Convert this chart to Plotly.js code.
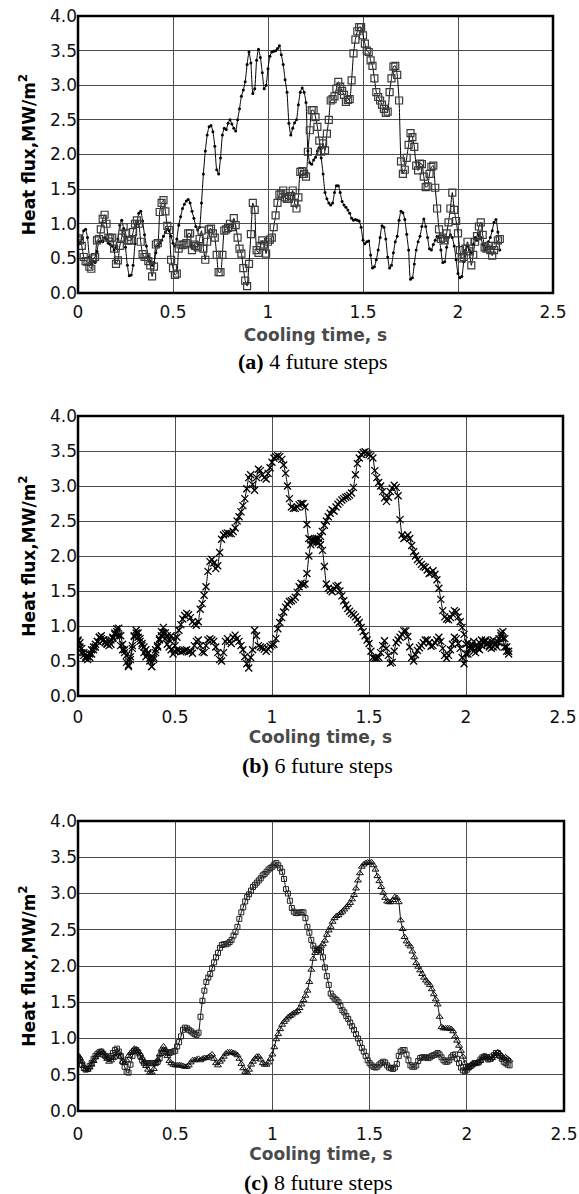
<!DOCTYPE html>
<html>
<head>
<meta charset="utf-8">
<script src="https://cdn.plot.ly/plotly-3.0.1.min.js"></script>
<style>html,body{margin:0;padding:0;background:#fff;}#chart{width:579px;height:1194px;}</style>
</head>
<body>
<div id="chart"></div>
<script>
// Sampling: cooling time starts at 0 s, one value every 0.01 s
const timeStart = 0;
const timeStep = 0.01;

// (a) 4 future steps
const a_dots = [0.70,0.72,0.78,0.90,0.92,0.80,0.52,0.42,0.46,0.44,0.60,0.74,0.75,0.74,0.80,0.78,0.72,0.70,0.68,0.62,
0.66,0.78,0.98,1.05,0.93,0.66,0.40,0.25,0.26,0.40,0.71,1.00,1.15,1.18,1.04,0.84,0.68,0.53,0.46,0.40,
0.44,0.58,0.68,0.72,0.76,0.82,0.88,0.92,0.90,0.82,0.72,0.68,0.78,0.98,1.10,1.22,1.28,1.33,1.35,1.30,
1.18,1.08,0.96,0.91,0.95,1.30,1.72,2.05,2.28,2.40,2.42,2.33,2.12,1.78,1.72,1.95,2.28,2.38,2.36,2.45,
2.50,2.44,2.38,2.34,2.50,2.66,2.84,2.93,3.05,3.30,3.48,3.32,2.88,2.95,3.36,3.52,3.40,3.18,2.95,3.00,
3.24,3.42,3.48,3.49,3.50,3.53,3.57,3.44,3.30,3.08,2.90,2.45,2.28,2.38,2.46,2.50,2.72,2.90,2.96,2.90,
2.75,2.05,1.88,1.86,1.92,1.96,2.05,2.10,1.95,1.72,1.45,1.36,1.30,1.27,1.30,1.45,1.55,1.55,1.45,1.32,
1.27,1.24,1.20,1.15,1.08,1.05,1.06,1.05,1.04,0.95,0.76,0.71,0.74,0.75,0.55,0.36,0.38,0.48,0.62,0.80,
0.97,0.95,0.78,0.52,0.36,0.40,0.58,0.74,0.82,1.05,1.18,1.16,1.06,0.85,0.62,0.20,0.22,0.42,0.62,0.74,
0.82,0.96,1.07,0.96,0.80,0.64,0.62,0.70,0.76,0.82,0.80,0.62,0.44,0.45,0.66,0.80,0.84,0.80,0.68,0.48,
0.28,0.22,0.24,0.45,0.62,0.68,0.62,0.58,0.70,0.80,0.76,0.84,0.80,0.70,0.62,0.66,0.74,0.80,0.90,1.02,
1.06,0.88,0.62];
const a_squares = [0.79,0.76,0.68,0.52,0.46,0.45,0.38,0.35,0.50,0.52,0.76,0.78,0.92,1.07,1.13,1.00,0.80,0.79,0.80,0.64,
0.42,0.47,0.68,0.80,0.95,0.87,0.76,0.76,0.76,0.88,1.00,1.05,1.00,0.74,0.56,0.52,0.52,0.46,0.40,0.24,
0.38,0.70,0.72,1.17,1.30,1.34,1.18,0.97,0.91,0.48,0.36,0.26,0.28,0.64,0.70,0.69,0.70,0.72,0.86,0.86,
0.62,0.70,0.68,0.66,0.78,0.90,0.64,0.48,0.74,0.92,0.93,0.86,0.80,0.55,0.30,0.30,0.55,0.90,0.92,0.94,
1.00,0.95,1.08,0.98,0.80,0.64,0.57,0.36,0.18,0.10,0.42,0.85,1.30,1.20,0.62,0.58,0.68,0.76,0.70,0.57,
0.74,0.77,0.80,0.95,1.12,1.30,1.42,1.44,1.48,1.38,1.36,1.36,1.40,1.48,1.30,1.22,1.38,1.75,1.76,1.72,
1.68,2.04,2.35,2.64,2.64,2.54,2.40,2.20,2.04,2.16,2.06,2.30,2.50,2.78,2.80,2.84,2.95,3.05,2.98,2.92,
2.86,2.76,2.79,2.80,3.07,3.46,3.66,3.78,3.84,3.84,3.72,3.60,3.50,3.48,3.36,3.28,3.10,2.90,2.83,2.78,
2.72,2.66,2.60,2.62,2.90,3.10,3.27,3.28,3.15,2.78,1.90,1.72,1.78,1.95,2.14,2.31,2.25,2.11,1.84,1.77,
1.87,1.86,1.68,1.53,1.54,1.72,1.82,1.84,1.52,1.22,0.92,0.78,0.80,0.76,0.86,1.02,1.22,1.45,1.20,1.04,
0.86,0.62,0.50,0.52,0.64,0.74,0.60,0.40,0.55,0.74,0.82,0.96,1.02,0.84,0.66,0.64,0.68,0.62,0.54,0.62,
0.68,0.76,0.78];

// (b) 6 future steps
const b_first = [0.78,0.70,0.62,0.58,0.54,0.52,0.55,0.60,0.66,0.70,0.78,0.84,0.82,0.80,0.78,0.75,0.78,0.80,0.84,0.88,
0.92,0.86,0.72,0.66,0.62,0.48,0.42,0.56,0.72,0.86,0.90,0.84,0.78,0.75,0.70,0.66,0.62,0.50,0.42,0.55,
0.66,0.70,0.82,0.92,0.98,0.90,0.86,0.80,0.86,0.82,0.72,0.84,0.94,1.02,1.10,1.15,1.18,1.16,1.12,1.06,
1.03,1.01,1.06,1.24,1.32,1.44,1.56,1.78,1.92,1.95,1.90,1.82,1.86,2.05,2.24,2.30,2.32,2.33,2.32,2.32,
2.35,2.40,2.50,2.56,2.63,2.72,2.82,2.96,3.12,3.16,3.02,2.94,3.12,3.24,3.22,3.16,3.12,3.10,3.18,3.26,
3.34,3.40,3.42,3.43,3.42,3.38,3.30,3.18,3.00,2.82,2.70,2.68,2.68,2.70,2.73,2.75,2.75,2.70,2.45,2.25,
2.23,2.23,2.21,2.20,2.19,2.16,2.08,1.85,1.60,1.54,1.51,1.49,1.53,1.57,1.58,1.50,1.43,1.36,1.30,1.25,
1.21,1.18,1.16,1.13,1.09,1.05,0.98,0.92,0.86,0.80,0.75,0.64,0.55,0.54,0.54,0.55,0.62,0.72,0.79,0.68,
0.58,0.47,0.48,0.64,0.76,0.80,0.84,0.88,0.93,0.93,0.85,0.70,0.55,0.50,0.59,0.65,0.69,0.72,0.76,0.80,
0.80,0.76,0.71,0.72,0.76,0.80,0.84,0.78,0.68,0.58,0.54,0.58,0.66,0.74,0.84,0.82,0.75,0.68,0.55,0.46,
0.60,0.76,0.72,0.70,0.64,0.62,0.70,0.76,0.80,0.76,0.78,0.74,0.70,0.68,0.70,0.74,0.78,0.82,0.90,0.82,
0.70,0.64,0.60];
const b_second = [0.80,0.76,0.68,0.62,0.56,0.56,0.60,0.66,0.70,0.74,0.78,0.84,0.86,0.80,0.76,0.74,0.72,0.74,0.82,0.90,
0.96,0.97,0.86,0.74,0.66,0.58,0.44,0.52,0.68,0.85,0.94,0.90,0.82,0.72,0.62,0.56,0.60,0.54,0.42,0.52,
0.62,0.72,0.80,0.86,0.90,0.82,0.74,0.70,0.66,0.60,0.64,0.66,0.65,0.63,0.64,0.65,0.66,0.63,0.64,0.61,
0.72,0.78,0.80,0.72,0.63,0.62,0.72,0.80,0.82,0.80,0.78,0.70,0.62,0.52,0.50,0.62,0.78,0.82,0.78,0.75,
0.84,0.87,0.82,0.78,0.72,0.66,0.56,0.46,0.40,0.55,0.66,0.94,0.86,0.72,0.70,0.69,0.67,0.64,0.67,0.71,
0.73,0.74,0.82,0.96,1.05,1.12,1.20,1.27,1.31,1.35,1.36,1.38,1.41,1.48,1.56,1.61,1.59,1.60,1.75,2.00,
2.16,2.21,2.24,2.25,2.25,2.28,2.35,2.44,2.50,2.56,2.61,2.66,2.64,2.70,2.74,2.77,2.80,2.82,2.84,2.85,
2.87,2.90,2.98,3.16,3.32,3.40,3.45,3.48,3.49,3.47,3.45,3.43,3.40,3.22,3.12,3.05,3.00,2.92,2.83,2.78,
2.84,2.92,2.97,3.01,2.98,2.86,2.52,2.30,2.25,2.27,2.30,2.25,2.15,2.06,2.00,1.95,1.92,1.88,1.85,1.84,
1.80,1.75,1.76,1.79,1.74,1.66,1.54,1.38,1.22,1.13,1.10,1.09,1.12,1.17,1.22,1.20,1.13,1.06,0.98,0.88,
0.74,0.60,0.68,0.74,0.78,0.72,0.68,0.66,0.72,0.78,0.80,0.76,0.72,0.78,0.80,0.74,0.70,0.76,0.86,0.92,
0.82,0.70,0.64];

// (c) 8 future steps
const c_squares = [0.74,0.70,0.64,0.59,0.57,0.58,0.62,0.66,0.72,0.76,0.79,0.81,0.82,0.79,0.76,0.74,0.73,0.76,0.80,0.84,
0.86,0.82,0.76,0.68,0.61,0.54,0.53,0.64,0.76,0.83,0.84,0.81,0.76,0.70,0.66,0.66,0.66,0.66,0.66,0.66,
0.66,0.68,0.73,0.80,0.82,0.82,0.81,0.80,0.81,0.82,0.83,0.89,0.95,1.03,1.12,1.15,1.14,1.12,1.10,1.08,
1.06,1.05,1.08,1.30,1.52,1.66,1.78,1.84,1.89,1.97,2.05,2.12,2.18,2.25,2.29,2.30,2.30,2.31,2.33,2.36,
2.42,2.47,2.54,2.65,2.74,2.81,2.89,2.95,2.99,3.04,3.09,3.12,3.15,3.18,3.21,3.25,3.27,3.30,3.33,3.35,
3.37,3.40,3.42,3.39,3.35,3.30,3.20,3.06,3.00,2.90,2.80,2.75,2.73,2.73,2.74,2.74,2.74,2.66,2.54,2.46,
2.36,2.28,2.24,2.22,2.22,2.20,2.12,1.98,1.86,1.74,1.62,1.58,1.55,1.53,1.50,1.45,1.39,1.36,1.31,1.27,
1.22,1.17,1.12,1.06,1.00,0.94,0.87,0.82,0.76,0.70,0.66,0.63,0.61,0.60,0.61,0.64,0.66,0.68,0.67,0.63,
0.60,0.59,0.58,0.60,0.65,0.76,0.82,0.84,0.84,0.78,0.70,0.63,0.61,0.61,0.63,0.69,0.73,0.74,0.74,0.74,
0.73,0.74,0.76,0.77,0.78,0.80,0.78,0.74,0.70,0.68,0.68,0.70,0.74,0.77,0.78,0.72,0.66,0.60,0.56,0.55,
0.57,0.60,0.62,0.64,0.66,0.66,0.67,0.71,0.74,0.75,0.74,0.71,0.72,0.75,0.77,0.80,0.80,0.76,0.72,0.68,
0.66,0.64,0.63];
const c_triangles = [0.77,0.73,0.68,0.62,0.58,0.57,0.60,0.64,0.69,0.74,0.77,0.80,0.82,0.80,0.76,0.72,0.68,0.70,0.73,0.75,
0.78,0.80,0.75,0.68,0.66,0.70,0.76,0.80,0.83,0.86,0.85,0.82,0.78,0.73,0.67,0.62,0.57,0.53,0.53,0.58,
0.66,0.70,0.78,0.85,0.89,0.84,0.76,0.69,0.66,0.64,0.63,0.63,0.63,0.63,0.62,0.61,0.61,0.63,0.67,0.70,
0.70,0.71,0.72,0.70,0.72,0.73,0.73,0.74,0.76,0.78,0.72,0.66,0.63,0.68,0.71,0.75,0.79,0.81,0.81,0.81,
0.80,0.79,0.77,0.72,0.65,0.59,0.54,0.53,0.57,0.64,0.68,0.72,0.75,0.75,0.71,0.66,0.64,0.64,0.67,0.72,
0.78,0.88,0.99,1.06,1.13,1.19,1.23,1.26,1.29,1.31,1.33,1.35,1.36,1.38,1.42,1.47,1.53,1.59,1.66,1.78,
1.95,2.10,2.18,2.21,2.24,2.27,2.30,2.35,2.43,2.49,2.54,2.61,2.66,2.69,2.70,2.73,2.75,2.78,2.81,2.84,
2.87,2.92,2.98,3.07,3.18,3.28,3.37,3.40,3.42,3.43,3.43,3.43,3.39,3.33,3.24,3.17,3.09,3.01,2.94,2.89,
2.88,2.88,2.91,2.95,2.94,2.88,2.63,2.51,2.40,2.34,2.30,2.27,2.20,2.12,2.04,1.99,1.94,1.89,1.84,1.80,
1.77,1.74,1.68,1.61,1.54,1.47,1.30,1.16,1.14,1.14,1.14,1.14,1.13,1.10,1.03,0.97,0.90,0.83,0.75,0.66,
0.59,0.60,0.63,0.65,0.66,0.66,0.67,0.69,0.73,0.76,0.75,0.74,0.71,0.73,0.76,0.79,0.81,0.79,0.76,0.73,
0.74,0.72,0.70];

// Axis tick labels
const xTickVals = [0, 0.5, 1, 1.5, 2, 2.5];
const xTickText = ['0', '0.5', '1', '1.5', '2', '2.5'];
const yTickVals = [0, 0.5, 1, 1.5, 2, 2.5, 3, 3.5, 4];
const yTickText = ['0.0', '0.5', '1.0', '1.5', '2.0', '2.5', '3.0', '3.5', '4.0'];

const xTitle = 'Cooling time, s';
const yTitle = 'Heat flux,MW/m<sup>2</sup>';
const captions = ['<b>(a)</b> 4 future steps', '<b>(b)</b> 6 future steps', '<b>(c)</b> 8 future steps'];

// ---------- drawing ----------
const W = 579, H = 1194;
const timeOf = arr => arr.map((_, i) => Math.round((timeStart + i * timeStep) * 100) / 100);
const px = x => x / W;
const py = y => 1 - y / H;

function trace(vals, xa, ya, marker) {
  return {
    x: timeOf(vals), y: vals, xaxis: xa, yaxis: ya,
    type: 'scatter', mode: 'lines+markers',
    line: {color: '#000', width: 1, shape: 'spline', smoothing: 0.5},
    marker: marker, showlegend: false, hoverinfo: 'skip'
  };
}
const sqMarkA = {symbol: 'square-open', size: 7, color: '#3a3a3a', line: {width: 1.2}};
const dotMark = {symbol: 'circle', size: 3, color: '#000'};
const xMark = {symbol: 'x-thin-open', size: 7, color: '#000', line: {width: 1.3, color: '#000'}};
const sqMarkC = {symbol: 'square-open', size: 5, color: '#222', line: {width: 1}};
const triMark = {symbol: 'triangle-up-open', size: 6, color: '#111', line: {width: 1}};

const data = [
  trace(a_dots, 'x', 'y', dotMark),
  trace(a_squares, 'x', 'y', sqMarkA),
  trace(b_first, 'x2', 'y2', xMark),
  trace(b_second, 'x2', 'y2', xMark),
  trace(c_squares, 'x3', 'y3', sqMarkC),
  trace(c_triangles, 'x3', 'y3', triMark)
];

const tickFont = {family: 'DejaVu Sans, sans-serif', size: 17, color: '#111'};
function xa(l, r, anchor, lblShift, titleGap) {
  return {domain: [px(l), px(r)], anchor: anchor, range: [0, 2.5], tickvals: xTickVals, ticktext: xTickText,
    showgrid: true, gridcolor: '#4d4d4d', gridwidth: 1, showline: false,
    ticks: '', ticklabelstandoff: lblShift, tickfont: tickFont, zeroline: false, fixedrange: true, automargin: false,
    title: {text: '<b>' + xTitle + '</b>', standoff: titleGap, font: {family: 'DejaVu Sans, sans-serif', size: 17, color: '#4a4a4a'}}};
}
function ya(t, b, anchor) {
  return {domain: [py(b), py(t)], anchor: anchor, range: [0, 4], tickvals: yTickVals, ticktext: yTickText,
    showgrid: true, gridcolor: '#4d4d4d', gridwidth: 1, showline: false,
    ticks: '', tickfont: tickFont, zeroline: false, fixedrange: true, automargin: false,
    title: {text: '<b>' + yTitle + '</b>', standoff: 10, font: {family: 'DejaVu Sans, sans-serif', size: 17, color: '#000'}}};
}

const panels = [
  {l: 78, r: 553, t: 16, b: 293, cap: 361, xa: 'x', ya: 'y'},
  {l: 78, r: 563, t: 416, b: 696, cap: 765, xa: 'x2', ya: 'y2'},
  {l: 78, r: 564, t: 821, b: 1111, cap: 1182, xa: 'x3', ya: 'y3'}
];

const annotations = [];
const shapes = [];
panels.forEach((p, i) => {
  shapes.push({type: 'rect', xref: p.xa + ' domain', yref: p.ya + ' domain', x0: 0, x1: 1, y0: 0, y1: 1,
    line: {color: '#000', width: 2.5}, fillcolor: 'rgba(0,0,0,0)', layer: 'above'});
  annotations.push({xref: 'paper', yref: 'paper', x: px((p.l + p.r) / 2 - 3), y: py(p.cap), text: captions[i],
    showarrow: false, xanchor: 'center', yanchor: 'middle', font: {family: 'Liberation Serif, serif', size: 22, color: '#000'}});
});

const layout = {
  width: W, height: H, margin: {l: 0, r: 0, t: 0, b: 0},
  paper_bgcolor: '#fff', plot_bgcolor: '#fff', showlegend: false,
  xaxis: xa(78, 553, 'y', 7, 8), yaxis: ya(16, 293, 'x'),
  xaxis2: xa(78, 563, 'y2', 9, 5), yaxis2: ya(416, 696, 'x2'),
  xaxis3: xa(78, 564, 'y3', 11, 5), yaxis3: ya(821, 1111, 'x3'),
  shapes: shapes,
  annotations: annotations
};

Plotly.newPlot('chart', data, layout, {staticPlot: true, displayModeBar: false});
</script>
</body>
</html>
